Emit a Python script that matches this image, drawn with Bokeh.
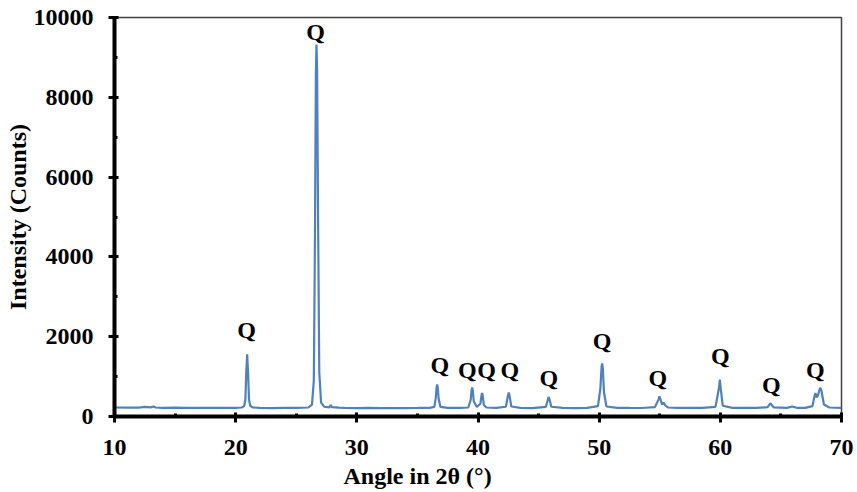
from bokeh.plotting import figure
from bokeh.models import Range1d, SingleIntervalTicker, Title, ColumnDataSource
from bokeh.core.properties import value
from bokeh.embed import file_html
from bokeh.resources import INLINE

# ---- data ----
angle = [10.0, 11.0, 12.0, 12.5, 13.0, 13.2, 13.4, 14.0, 15.0, 16.0, 17.0, 18.0, 19.0, 20.0,
         20.5, 20.7, 20.8, 20.88, 20.95, 21.02, 21.1, 21.2, 21.4, 22.0, 23.0, 24.0, 25.0, 26.0,
         26.3, 26.45, 26.55, 26.62, 26.67, 26.72, 26.8, 26.9, 27.05, 27.3, 27.75, 27.85, 27.95,
         28.5, 29.0, 30.0, 31.0, 32.0, 33.0, 34.0, 35.0, 36.0, 36.4, 36.52, 36.58, 36.63, 36.68,
         36.75, 36.9, 37.5, 38.5, 39.2, 39.4, 39.47, 39.52, 39.57, 39.65, 39.9, 40.2, 40.29,
         40.34, 40.39, 40.48, 40.7, 41.5, 42.3, 42.47, 42.54, 42.61, 42.75, 43.5, 44.5, 45.6,
         45.78, 45.84, 45.9, 46.05, 47.0, 48.0, 49.0, 49.9, 50.1, 50.2, 50.25, 50.3, 50.4, 50.6,
         51.5, 52.5, 53.5, 54.6, 54.9, 54.98, 55.06, 55.2, 55.33, 55.45, 55.7, 56.5, 57.5, 58.5,
         59.6, 59.88, 59.96, 60.04, 60.2, 61.0, 62.0, 63.0, 63.9, 64.08, 64.14, 64.2, 64.4, 65.5,
         65.93, 66.3, 67.0, 67.6, 67.78, 67.85, 67.95, 68.05, 68.2, 68.26, 68.35, 68.55, 69.0, 70.0]
counts = [225, 220, 222, 240, 228, 250, 226, 218, 220, 215, 218, 214, 216, 218,
          225, 260, 420, 1150, 1560, 1120, 430, 270, 228, 215, 212, 215, 214, 225,
          300, 900, 4800, 8600, 9320, 8700, 5000, 1100, 350, 245, 230, 290, 235,
          222, 215, 212, 214, 212, 213, 212, 214, 218, 240, 480, 720, 800, 720,
          450, 240, 218, 215, 225, 420, 660, 725, 650, 380, 240, 320, 530,
          590, 520, 290, 225, 215, 245, 520, 600, 510, 250, 215, 212, 240,
          440, 490, 430, 245, 214, 212, 215, 260, 700, 1250, 1330, 1220, 600, 250,
          216, 214, 213, 235, 430, 505, 420, 300, 345, 280, 225, 215, 218, 214,
          240, 700, 925, 680, 270, 218, 214, 215, 235, 310, 335, 300, 230, 216,
          250, 218, 215, 260, 520, 590, 480, 520, 690, 715, 640, 300, 225, 215]

label_x = [20.9, 26.6, 36.85, 39.11, 40.70, 42.62, 45.84, 50.25, 54.84, 60.01, 64.2, 67.85]
label_y = [2158, 9636, 1300, 1174, 1174, 1174, 974, 1885, 974, 1508, 798, 1174]
label_text = ["Q"] * len(label_x)

x_ticks_interval = 10
y_ticks_interval = 2000

FONT = "Liberation Serif"

p = figure(width=857, height=492, output_backend="svg", toolbar_location=None,
           x_range=Range1d(10, 70), y_range=Range1d(0, 10000),
           min_border_left=114, min_border_right=16, min_border_top=17, min_border_bottom=76)

p.line(angle, counts, line_color="#4F81BD", line_width=2.2)

src = ColumnDataSource(dict(x=label_x, y=label_y, t=label_text))
p.text(x="x", y="y", text="t", source=src, text_align="center", text_baseline="middle",
       text_font=value(FONT), text_font_style="bold", text_font_size="24px", text_color="black")

p.xgrid.visible = False
p.ygrid.visible = False
p.outline_line_color = "#404040"
p.outline_line_width = 1.5

p.xaxis.ticker = SingleIntervalTicker(interval=x_ticks_interval, num_minor_ticks=2)
p.yaxis.ticker = SingleIntervalTicker(interval=y_ticks_interval, num_minor_ticks=2)

for ax in (p.xaxis[0], p.yaxis[0]):
    ax.axis_line_width = 4
    ax.axis_line_color = "black"
    ax.major_tick_in = 4
    ax.major_tick_out = 6
    ax.major_tick_line_width = 3
    ax.minor_tick_in = 3
    ax.minor_tick_out = 0
    ax.minor_tick_line_width = 3
    ax.major_label_text_font = FONT
    ax.major_label_text_font_style = "bold"
    ax.major_label_text_font_size = "24px"
    ax.major_label_text_color = "black"

p.yaxis.major_label_standoff = 15
p.xaxis.major_label_standoff = 17
p.yaxis.axis_label = "Intensity (Counts)"
p.yaxis.axis_label_text_font = FONT
p.yaxis.axis_label_text_font_style = "bold"
p.yaxis.axis_label_text_font_size = "24px"
p.yaxis.axis_label_text_color = "black"
p.yaxis.axis_label_standoff = 0

xt = Title(text="Angle in 2θ (°)", align="left", offset=229, text_font=FONT,
           text_font_style="bold", text_font_size="24px", text_color="black", standoff=6)
p.add_layout(xt, "below")

open("out.html", "w").write(file_html(p, INLINE))
